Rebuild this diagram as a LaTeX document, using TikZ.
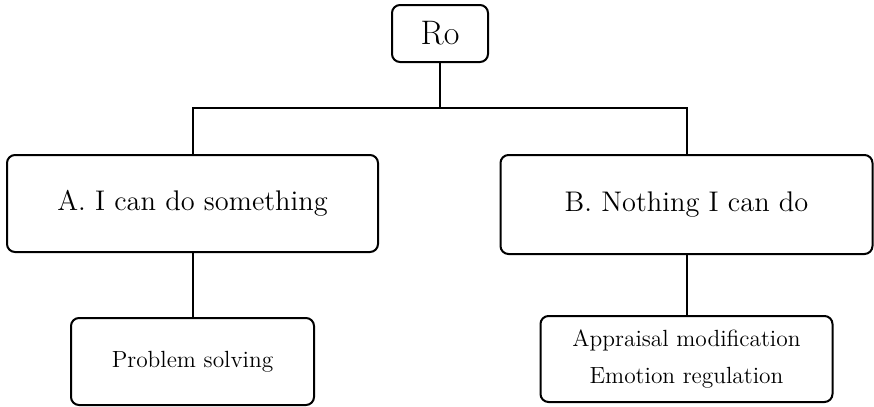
\documentclass[tikz,border=0pt]{standalone}
\usepackage{tikz}
\usetikzlibrary{positioning}
\tikzset{%
  every box/.style={
    draw,
    rounded corners=4pt,
    line width=1pt,
    align=center,
    inner sep=0pt
  },
  top box/.style={
    every box,
    minimum width=48pt,
    minimum height=28.5pt,
    font=\fontsize{17}{20}\selectfont
  },
  choice box/.style={
    every box,
    minimum width=185.5pt,
    minimum height=48.5pt,
    font=\fontsize{14.2}{17}\selectfont
  },
  answer box/.style={
    every box,
    minimum height=43.5pt,
    font=\fontsize{11.7}{18.5}\selectfont
  },
  link/.style={line width=1pt}
}

\begin{document}
\begin{tikzpicture}[x=0.5pt, y=-0.5pt]
\useasboundingbox (0,0) rectangle (874,407);
    \node[top box] (ro) at (440,33.5) {Ro};
    \coordinate (split) at (440,108);

    \node[choice box] (a) at (192.5,203.5) {A. I can do something};
    \node[choice box, minimum width=186pt, minimum height=49.5pt] (b) at (686.5,204.5) {B. Nothing I can do};

    \node[answer box, minimum width=121.5pt] (solve) at (192.5,361.5) {Problem solving};
    \node[answer box, minimum width=146pt, minimum height=43pt] (regulate) at (686.5,359) {Appraisal modification\\Emotion regulation};

    \draw[link] (ro) -- (split);
    \draw[link] (a.north) |- (split) -| (b.north);
    \draw[link] (a) -- (solve);
    \draw[link] (b) -- (regulate);
\end{tikzpicture}
\end{document}
